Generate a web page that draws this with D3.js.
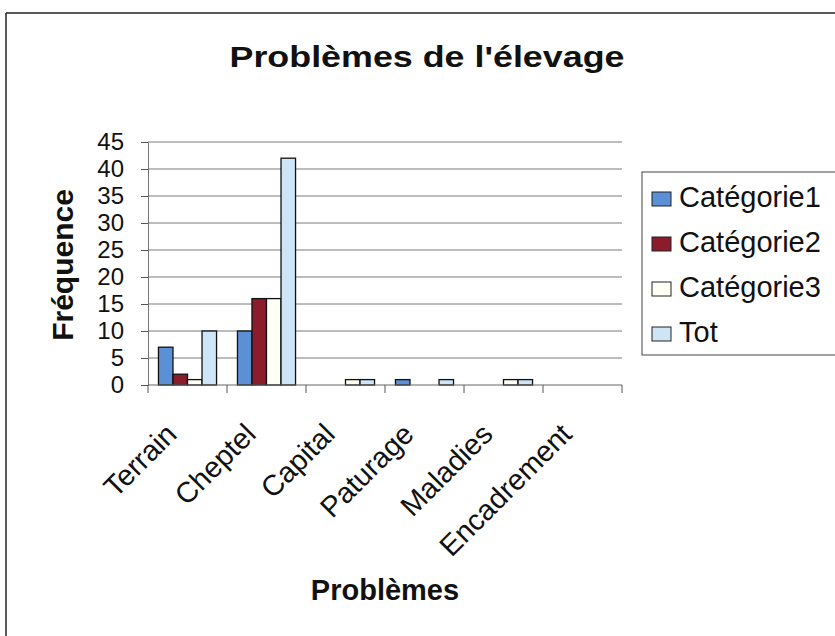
<!DOCTYPE html>
<html>
<head>
<meta charset="utf-8">
<script src="https://cdn.jsdelivr.net/npm/d3@7"></script>
<style>
  body { margin: 0; background: #fff; }
  svg { font-family: "Liberation Sans", Arial, sans-serif; }
</style>
</head>
<body>
<svg id="chart" width="835" height="636"></svg>
<script>
// data
const categories = ["Terrain", "Cheptel", "Capital", "Paturage", "Maladies", "Encadrement"];
const seriesNames = ["Catégorie1", "Catégorie2", "Catégorie3", "Tot"];
const categorie1 = [7, 10, 0, 1, 0, 0];
const categorie2 = [2, 16, 0, 0, 0, 0];
const categorie3 = [1, 16, 1, 0, 1, 0];
const tot = [10, 42, 1, 1, 1, 0];
const yTicks = [0, 5, 10, 15, 20, 25, 30, 35, 40, 45];

const seriesValues = [categorie1, categorie2, categorie3, tot];
const colors = ["#5b8fd6", "#8a1c2c", "#fffff6", "#cde5f7"];

const svg = d3.select("#chart");

// chart frame (only top and left edges are visible)
svg.append("line").attr("x1", 6).attr("y1", 13).attr("x2", 835).attr("y2", 13)
  .attr("stroke", "#222").attr("stroke-width", 1.5);
svg.append("line").attr("x1", 6).attr("y1", 13).attr("x2", 6).attr("y2", 636)
  .attr("stroke", "#222").attr("stroke-width", 1.5);

const plot = { left: 148, right: 622, top: 142, bottom: 385 };

const x = d3.scaleBand()
  .domain(categories)
  .range([plot.left, plot.right])
  .paddingInner(0).paddingOuter(0);

const xSub = d3.scaleBand()
  .domain(seriesNames)
  .range([0, x.bandwidth()])
  .paddingInner(0).paddingOuter(0.72);

const y = d3.scaleLinear()
  .domain([0, 45])
  .range([plot.bottom, plot.top]);

// gridlines
svg.append("g")
  .selectAll("line")
  .data(yTicks.filter(d => d > 0))
  .join("line")
  .attr("x1", plot.left).attr("x2", plot.right)
  .attr("y1", d => y(d)).attr("y2", d => y(d))
  .attr("stroke", "#7a7a7a").attr("stroke-width", 1);

// y axis
const yAxis = svg.append("g")
  .attr("transform", `translate(${plot.left},0)`)
  .call(d3.axisLeft(y).tickValues(yTicks).tickSize(7).tickPadding(17));
yAxis.select(".domain").attr("stroke", "#777");
yAxis.selectAll(".tick line").attr("stroke", "#555");
yAxis.selectAll("text").attr("font-size", 24).attr("fill", "#111")
  .attr("font-family", "Liberation Sans, Arial, sans-serif");

// bars
const groups = svg.append("g")
  .selectAll("g")
  .data(seriesNames)
  .join("g")
  .attr("fill", (d, i) => colors[i]);

groups.selectAll("rect")
  .data((s, i) => categories.map((c, j) => ({ cat: c, series: s, value: seriesValues[i][j] })))
  .join("rect")
  .filter(d => d.value > 0)
  .attr("x", d => x(d.cat) + xSub(d.series))
  .attr("y", d => y(d.value))
  .attr("width", xSub.bandwidth())
  .attr("height", d => y(0) - y(d.value))
  .attr("stroke", "#111").attr("stroke-width", 1.3);

// x axis with ticks between categories
const xAxis = svg.append("g")
  .attr("transform", `translate(0,${plot.bottom})`);
xAxis.append("line")
  .attr("x1", plot.left).attr("x2", plot.right)
  .attr("stroke", "#666");
xAxis.selectAll(".sep")
  .data(categories.concat([null]))
  .join("line")
  .attr("class", "sep")
  .attr("x1", (d, i) => i < categories.length ? x(d) : plot.right)
  .attr("x2", (d, i) => i < categories.length ? x(d) : plot.right)
  .attr("y1", 0).attr("y2", 8)
  .attr("stroke", "#555");

xAxis.selectAll(".lbl")
  .data(categories)
  .join("text")
  .attr("class", "lbl")
  .attr("transform", d => `translate(${x(d) + x.bandwidth() / 2 - 9},${51}) rotate(-45)`)
  .attr("text-anchor", "end")
  .attr("font-size", 29)
  .attr("fill", "#111")
  .text(d => d);

// titles
svg.append("text")
  .attr("x", 427).attr("y", 67)
  .attr("text-anchor", "middle")
  .attr("font-size", 30).attr("font-weight", "bold")
  .attr("textLength", 395).attr("lengthAdjust", "spacingAndGlyphs")
  .attr("fill", "#111")
  .text("Problèmes de l'élevage");

svg.append("text")
  .attr("transform", "translate(73,265) rotate(-90)")
  .attr("text-anchor", "middle")
  .attr("font-size", 30).attr("font-weight", "bold")
  .attr("fill", "#111")
  .text("Fréquence");

svg.append("text")
  .attr("x", 385).attr("y", 600)
  .attr("text-anchor", "middle")
  .attr("font-size", 29).attr("font-weight", "bold")
  .attr("fill", "#111")
  .text("Problèmes");

// legend
const legend = svg.append("g").attr("transform", "translate(642,172)");
legend.append("rect")
  .attr("x", 0).attr("y", 0).attr("width", 200).attr("height", 183)
  .attr("fill", "#fff").attr("stroke", "#444").attr("stroke-width", 1);

const item = legend.selectAll(".item")
  .data(seriesNames)
  .join("g")
  .attr("class", "item")
  .attr("transform", (d, i) => `translate(10,${35 + i * 45})`);
item.append("rect")
  .attr("x", 0).attr("y", -15).attr("width", 19).attr("height", 14)
  .attr("fill", (d, i) => colors[i])
  .attr("stroke", "#222").attr("stroke-width", 1);
item.append("text")
  .attr("x", 27).attr("y", 0)
  .attr("font-size", 29)
  .attr("fill", "#111")
  .text(d => d);
</script>
</body>
</html>
